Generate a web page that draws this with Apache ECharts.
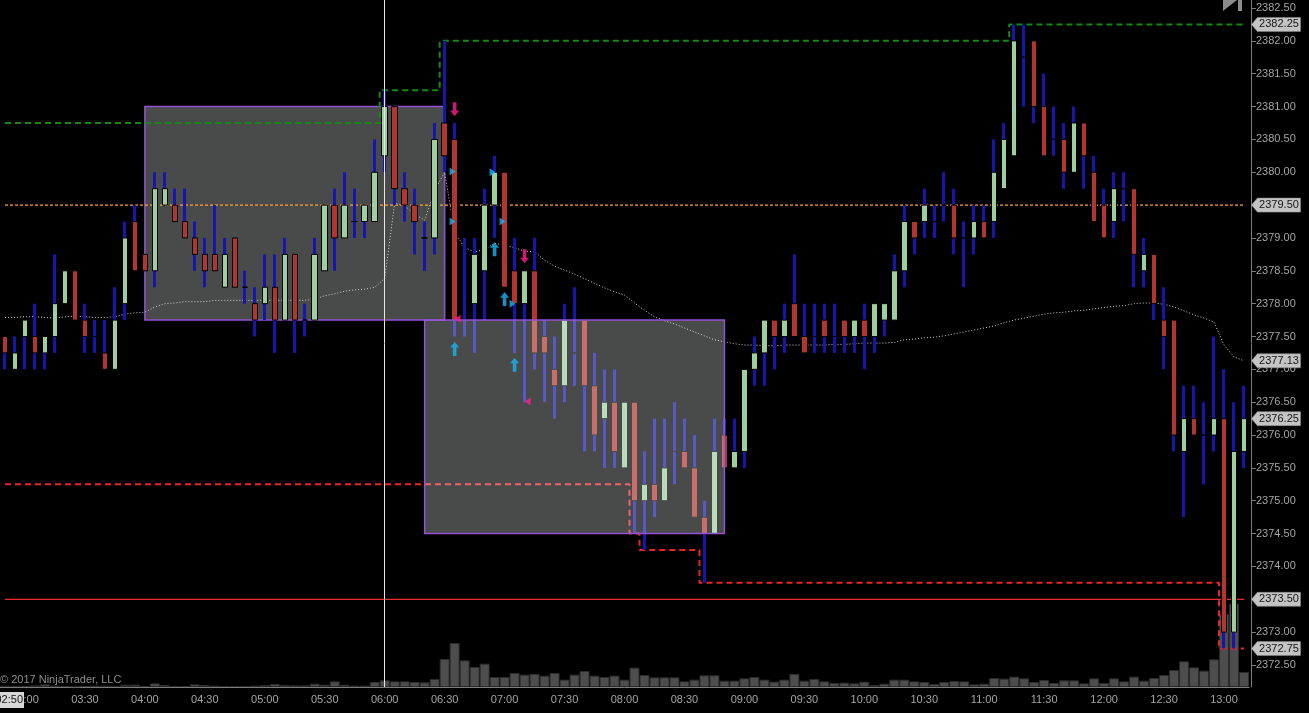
<!DOCTYPE html>
<html>
<head>
<meta charset="utf-8">
<title>ES 5 Min</title>
<script src="https://cdn.jsdelivr.net/npm/echarts@6/dist/echarts.min.js"></script>
<style>
html, body { margin: 0; padding: 0; background: #000; }
#main { width: 1309px; height: 713px; }
</style>
</head>
<body>
<div id="main"></div>
<script>
// 5 minute bars, 02:50 - 13:10
var times = ('02:50 02:55 ' +
  '03:00 03:05 03:10 03:15 03:20 03:25 03:30 03:35 03:40 03:45 03:50 03:55 ' +
  '04:00 04:05 04:10 04:15 04:20 04:25 04:30 04:35 04:40 04:45 04:50 04:55 ' +
  '05:00 05:05 05:10 05:15 05:20 05:25 05:30 05:35 05:40 05:45 05:50 05:55 ' +
  '06:00 06:05 06:10 06:15 06:20 06:25 06:30 06:35 06:40 06:45 06:50 06:55 ' +
  '07:00 07:05 07:10 07:15 07:20 07:25 07:30 07:35 07:40 07:45 07:50 07:55 ' +
  '08:00 08:05 08:10 08:15 08:20 08:25 08:30 08:35 08:40 08:45 08:50 08:55 ' +
  '09:00 09:05 09:10 09:15 09:20 09:25 09:30 09:35 09:40 09:45 09:50 09:55 ' +
  '10:00 10:05 10:10 10:15 10:20 10:25 10:30 10:35 10:40 10:45 10:50 10:55 ' +
  '11:00 11:05 11:10 11:15 11:20 11:25 11:30 11:35 11:40 11:45 11:50 11:55 ' +
  '12:00 12:05 12:10 12:15 12:20 12:25 12:30 12:35 12:40 12:45 12:50 12:55 ' +
  '13:00 13:05 13:10').split(' ');

var opens = [
  2377.50,2377.00,2377.50,2377.50,2377.25,2377.50,2378.00,2378.50,2377.75,2377.50,
  2377.25,2377.00,2378.00,2379.25,2378.75,2378.50,2379.50,2379.50,2379.25,2379.00,
  2378.75,2378.75,2378.25,2379.00,2378.25,2378.00,2378.00,2378.25,2377.75,2378.75,
  2377.75,2377.75,2378.50,2379.50,2379.00,2379.25,2379.25,2379.25,2380.25,2381.00,
  2379.75,2379.50,2379.00,2379.00,2380.75,2380.50,2377.75,2378.00,2378.50,2379.50,
  2380.00,2378.50,2378.00,2378.50,2377.50,2377.00,2376.75,2377.25,2377.75,2376.75,
  2376.25,2376.50,2375.50,2376.50,2375.00,2375.25,2375.00,2375.75,2375.75,2375.50,
  2374.75,2374.50,2376.00,2375.50,2375.75,2377.00,2377.25,2377.75,2377.50,2378.00,
  2377.50,2377.50,2377.75,2377.50,2377.75,2377.50,2377.75,2377.50,2377.75,2377.75,
  2378.50,2379.25,2379.25,2379.25,2379.50,2379.50,2379.00,2379.00,2379.25,2379.25,
  2379.75,2380.25,2381.75,2382.00,2381.00,2380.50,2380.50,2380.00,2380.75,2380.00,
  2379.50,2379.25,2379.75,2379.75,2378.50,2378.75,2377.75,2377.75,2375.75,2376.25,
  2376.00,2376.00,2376.25,2373.00,2375.75
];
var highs = [
  2377.50,2377.50,2377.75,2378.00,2377.50,2378.75,2378.50,2378.50,2378.00,2377.75,
  2377.75,2378.25,2379.25,2379.50,2378.75,2380.00,2380.00,2379.75,2379.75,2379.25,
  2379.00,2379.50,2379.00,2379.00,2378.50,2378.25,2378.75,2378.75,2379.00,2378.75,
  2378.00,2379.00,2379.50,2379.75,2380.00,2379.75,2379.50,2380.50,2381.25,2381.00,
  2380.00,2379.75,2379.25,2380.75,2382.00,2380.75,2379.00,2379.00,2379.75,2380.25,
  2380.00,2379.00,2378.50,2379.00,2377.75,2377.50,2378.00,2378.25,2377.75,2377.25,
  2377.00,2377.00,2376.50,2376.50,2375.75,2376.25,2376.25,2376.50,2376.25,2376.00,
  2375.00,2376.25,2376.25,2376.25,2377.00,2377.50,2377.75,2377.75,2378.00,2378.75,
  2378.00,2378.00,2378.00,2378.00,2377.75,2377.75,2378.00,2378.00,2378.00,2378.75,
  2379.50,2379.25,2379.75,2379.50,2380.00,2379.75,2379.25,2379.50,2379.50,2380.50,
  2380.75,2382.25,2382.25,2382.00,2381.50,2381.00,2380.75,2381.00,2380.75,2380.25,
  2379.75,2380.00,2380.00,2379.75,2379.00,2378.75,2378.25,2377.75,2376.75,2376.75,
  2376.50,2377.50,2377.00,2376.50,2376.75
];
var lows = [
  2377.00,2377.00,2377.00,2377.00,2377.00,2377.25,2378.00,2377.75,2377.25,2377.25,
  2377.00,2377.00,2377.75,2378.50,2378.50,2378.25,2379.50,2379.25,2379.00,2378.50,
  2378.25,2378.50,2378.25,2378.25,2378.00,2377.50,2377.75,2377.25,2377.75,2377.25,
  2377.50,2377.75,2378.50,2378.50,2379.00,2379.00,2379.00,2379.25,2380.00,2379.50,
  2379.25,2378.75,2378.50,2378.75,2380.00,2377.50,2377.50,2377.25,2377.75,2379.00,
  2378.25,2377.25,2376.50,2377.00,2376.50,2376.25,2376.50,2376.75,2375.75,2375.75,
  2375.50,2375.50,2375.50,2374.50,2374.25,2374.75,2375.00,2375.25,2375.50,2374.75,
  2373.75,2374.50,2375.50,2375.50,2375.50,2376.75,2376.75,2377.00,2377.25,2377.50,
  2377.25,2377.25,2377.25,2377.25,2377.25,2377.25,2377.00,2377.25,2377.50,2377.75,
  2378.25,2378.75,2379.00,2379.00,2379.25,2378.75,2378.25,2378.75,2379.00,2379.00,
  2379.75,2380.25,2381.00,2380.75,2380.25,2380.25,2379.75,2380.00,2379.75,2379.25,
  2379.00,2379.00,2379.25,2378.25,2378.25,2377.75,2377.00,2375.75,2374.75,2376.00,
  2375.25,2375.75,2372.75,2372.75,2375.50
];
var closes = [
  2377.25,2377.25,2377.75,2377.25,2377.50,2378.00,2378.50,2377.75,2377.50,2377.50,
  2377.00,2377.75,2379.00,2378.50,2378.50,2379.75,2379.75,2379.25,2379.00,2378.75,
  2378.50,2378.50,2378.75,2378.25,2378.25,2377.75,2378.25,2377.75,2378.75,2377.75,
  2377.75,2378.75,2379.50,2379.00,2379.50,2379.25,2379.50,2380.00,2381.00,2379.75,
  2379.50,2379.25,2379.00,2380.50,2380.25,2377.75,2377.75,2378.75,2379.50,2380.00,
  2378.25,2378.00,2378.50,2377.25,2377.25,2376.75,2377.75,2377.25,2376.75,2376.00,
  2376.50,2375.75,2376.50,2375.00,2375.25,2375.00,2375.50,2375.75,2375.50,2374.75,
  2374.50,2375.75,2375.50,2375.75,2377.00,2377.25,2377.75,2377.50,2377.75,2377.50,
  2377.25,2377.50,2377.50,2377.50,2377.50,2377.75,2377.50,2378.00,2378.00,2378.50,
  2379.25,2379.00,2379.50,2379.25,2379.50,2379.00,2379.00,2379.25,2379.00,2380.00,
  2380.50,2382.00,2381.75,2381.00,2380.25,2380.50,2380.00,2380.75,2380.25,2379.25,
  2379.00,2379.75,2379.75,2378.75,2378.75,2378.00,2377.50,2376.00,2376.25,2376.00,
  2376.00,2376.25,2373.00,2375.75,2376.25
];
var volumes = [
  40,30,30,50,80,40,30,20,30,40,
  40,30,70,70,30,110,60,30,30,80,
  60,40,30,30,30,40,60,90,60,50,
  50,100,70,170,70,40,40,150,200,170,
  170,150,140,240,840,1320,800,600,700,300,
  300,420,370,390,340,420,220,370,480,340,
  300,340,220,580,360,290,290,290,170,220,
  350,350,190,190,260,300,220,160,220,390,
  190,240,170,120,130,110,160,60,100,220,
  220,170,150,90,150,180,170,80,100,270,
  250,310,260,150,210,120,200,200,110,260,
  120,260,170,310,190,270,360,510,770,590,
  490,830,2190,2500,450
];
// moving average
var movingAvg = [
  2377.79,2377.79,2377.80,2377.80,2377.79,2377.78,2377.80,2377.81,2377.80,2377.79,
  2377.79,2377.80,2377.84,2377.86,2377.87,2377.95,2378.00,2378.01,2378.03,2378.03,
  2378.03,2378.05,2378.05,2378.05,2378.05,2378.05,2378.05,2378.05,2378.05,2378.05,
  2378.05,2378.07,2378.12,2378.15,2378.19,2378.21,2378.22,2378.25,2378.38,2379.53,
  2379.49,2379.36,2379.27,2379.73,2380.00,2379.09,2378.85,2378.79,2378.82,2378.92,
  2378.89,2378.85,2378.80,2378.79,2378.66,2378.57,2378.51,2378.45,2378.38,2378.31,
  2378.24,2378.18,2378.13,2378.01,2377.90,2377.80,2377.74,2377.69,2377.63,2377.57,
  2377.51,2377.45,2377.42,2377.39,2377.37,2377.37,2377.36,2377.36,2377.37,2377.37,
  2377.37,2377.37,2377.37,2377.38,2377.38,2377.39,2377.40,2377.40,2377.40,2377.41,
  2377.45,2377.46,2377.48,2377.49,2377.51,2377.54,2377.57,2377.60,2377.63,2377.66,
  2377.71,2377.75,2377.78,2377.81,2377.84,2377.86,2377.87,2377.89,2377.90,2377.92,
  2377.94,2377.96,2377.97,2378.00,2378.01,2378.01,2377.99,2377.95,2377.89,2377.83,
  2377.78,2377.72,2377.37,2377.19,2377.13
];

var priorHigh = 2380.75;
var priorLow = 2375.25;
var pivotLevel = 2379.50;
var supportLevel = 2373.50;
var priceTicks = [2372.5,2373,2373.5,2374,2374.5,2375,2375.5,2376,2376.5,2377,
  2377.5,2378,2378.5,2379,2379.5,2380,2380.5,2381,2381.5,2382,2382.5];
var flagLevels = [2382.25, 2379.50, 2377.13, 2376.25, 2373.50, 2372.75];

// range boxes [from bar, to bar, top, bottom]
var rangeBox1 = ['04:00', '06:30', 2381.00, 2377.75];
var rangeBox2 = ['06:20', '08:50', 2377.75, 2374.50];

// signal markers [bar index, price]
var buyArrows = [[45, 2377.31], [49, 2378.83], [50, 2378.07], [51, 2377.07]];
var sellArrows = [[45, 2380.96], [52, 2378.72]];
var buyTriangles = [[45, 2380.01], [45, 2379.25], [49, 2380.00], [50, 2379.25], [51, 2378.00]];
var sellTriangles = [[45, 2377.77], [52, 2376.51]];

var wickData = [], bodyData = [], hiLine = [], loLine = [], pivotLine = [], supportLine = [];
var hi = priorHigh, lo = priorLow;
for (var i = 0; i < times.length; i++) {
  wickData.push([opens[i], closes[i], lows[i], highs[i]]);
  bodyData.push([opens[i], closes[i], Math.min(opens[i], closes[i]), Math.max(opens[i], closes[i])]);
  hi = Math.max(hi, highs[i]);
  lo = Math.min(lo, lows[i]);
  hiLine.push(hi);
  loLine.push(lo);
  pivotLine.push(pivotLevel);
  supportLine.push(supportLevel);
}
function pts(list) {
  return list.map(function (p) { return [times[p[0]], p[1]]; });
}

var FONT = 'Liberation Sans, Arial, sans-serif';
var labelGrey = '#a4a4a4';
var isHalfHour = function (idx, val) {
  return val.slice(3) === '00' || val.slice(3) === '30';
};
var boxStyle = { color: 'rgba(250,255,255,0.29)', borderColor: '#9452d4', borderWidth: 1.5 };

var myChart = echarts.init(document.getElementById('main'));
var option = {
  backgroundColor: '#000',
  animation: false,
  grid: [
    { left: -1, right: 60, top: 0, bottom: 26 },
    { left: -1, right: 60, top: 587, bottom: 26 }
  ],
  xAxis: [
    { type: 'category', gridIndex: 0, data: times, show: false },
    {
      type: 'category', gridIndex: 1, data: times,
      axisLine: { lineStyle: { color: '#7c7c7c' } },
      axisTick: { interval: isHalfHour, length: 5, lineStyle: { color: '#7c7c7c' } },
      axisLabel: { interval: isHalfHour, color: labelGrey, fontSize: 11, fontFamily: FONT, margin: 7 }
    }
  ],
  yAxis: [
    {
      type: 'value', gridIndex: 0, position: 'right', offset: 2,
      min: 2372.165, max: 2382.622,
      splitLine: { show: false },
      axisLine: { show: true, lineStyle: { color: '#7c7c7c' } },
      axisTick: { show: true, length: 5, customValues: priceTicks, lineStyle: { color: '#7c7c7c' } },
      axisLabel: {
        customValues: priceTicks, color: labelGrey, fontSize: 11, fontFamily: FONT, margin: 5,
        formatter: function (v) { return v.toFixed(2); }
      }
    },
    { type: 'value', gridIndex: 1, min: 0, max: 3000, show: false, splitLine: { show: false } }
  ],
  series: [
    {
      name: 'Volume', type: 'bar', xAxisIndex: 1, yAxisIndex: 1, data: volumes,
      barCategoryGap: '0%', z: 1,
      itemStyle: { color: '#4d4d4d', borderColor: '#2c2c2c', borderWidth: 1 }
    },
    {
      name: 'Range1', type: 'line', data: [], z: 1,
      markArea: {
        silent: true, z: 1, itemStyle: boxStyle,
        data: [[{ coord: [rangeBox1[0], rangeBox1[2]] }, { coord: [rangeBox1[1], rangeBox1[3]] }]]
      }
    },
    {
      name: 'HighLine', type: 'line', data: hiLine, step: 'middle', symbol: 'none', z: 2,
      lineStyle: { color: '#138a13', width: 2, type: [6, 4] }
    },
    {
      name: 'LowLine', type: 'line', data: loLine, step: 'middle', symbol: 'none', z: 2,
      lineStyle: { color: '#e82626', width: 2, type: [6, 4] }
    },
    {
      name: 'MA', type: 'line', data: movingAvg, symbol: 'none', z: 2,
      lineStyle: { color: '#d0d0d0', width: 1, type: [1, 2] }
    },
    {
      name: 'Pivot', type: 'line', data: pivotLine, symbol: 'none', z: 2,
      lineStyle: { color: '#ffa436', width: 1.4, type: [3, 2] }
    },
    {
      name: 'Support', type: 'line', data: supportLine, symbol: 'none', z: 2,
      lineStyle: { color: '#f02a2a', width: 1.3, type: 'solid' }
    },
    {
      name: 'Wicks', type: 'candlestick', data: wickData, barWidth: 1, z: 3,
      itemStyle: { color: '#1616ac', color0: '#1616ac', borderColor: '#1616ac', borderColor0: '#1616ac', borderWidth: 3 }
    },
    {
      name: 'Bodies', type: 'candlestick', data: bodyData, barWidth: 6, z: 4,
      itemStyle: { color: '#9ecd9e', color0: '#b3352f', borderColor: '#000', borderColor0: '#000', borderWidth: 1 }
    },
    {
      name: 'Range2', type: 'line', data: [], z: 5,
      markArea: {
        silent: true, z: 5, itemStyle: boxStyle,
        data: [[{ coord: [rangeBox2[0], rangeBox2[2]] }, { coord: [rangeBox2[1], rangeBox2[3]] }]]
      }
    },
    {
      name: 'BuyArrow', type: 'scatter', data: pts(buyArrows), z: 6,
      symbol: 'path://M5,0 L10,6 L7,6 L7,15 L3,15 L3,6 L0,6 Z', symbolSize: [9, 14],
      itemStyle: { color: '#19b4f2' }
    },
    {
      name: 'SellArrow', type: 'scatter', data: pts(sellArrows), z: 6,
      symbol: 'path://M3,0 L7,0 L7,9 L10,9 L5,15 L0,9 L3,9 Z', symbolSize: [9, 14],
      itemStyle: { color: '#ff1f8e' }
    },
    {
      name: 'BuyTri', type: 'scatter', data: pts(buyTriangles), z: 6,
      symbol: 'path://M0,0 L8,5 L0,10 Z', symbolSize: [6, 8], symbolOffset: [-2, 0],
      itemStyle: { color: '#19b4f2' }
    },
    {
      name: 'SellTri', type: 'scatter', data: pts(sellTriangles), z: 6,
      symbol: 'path://M8,0 L0,5 L8,10 Z', symbolSize: [6, 8], symbolOffset: [3, 0],
      itemStyle: { color: '#ff1f8e' }
    },
    {
      name: 'Overlay', type: 'line', data: [], z: 8,
      markLine: {
        silent: true, z: 8, symbol: ['none', 'none'], label: { show: false },
        lineStyle: { color: '#e6e6e6', width: 1, type: 'solid' },
        data: [{ xAxis: '06:00' }]
      },
      markPoint: {
        silent: true, z: 9,
        symbol: 'path://M0,6 L6,0 L50,0 L50,12 L6,12 Z',
        symbolSize: [49, 14],
        symbolOffset: [32, 0],
        itemStyle: { color: '#c4c4c4', borderColor: '#8a8a8a', borderWidth: 0.5 },
        label: {
          show: true, position: 'inside', offset: [3, 0], color: '#151515', fontSize: 11, fontFamily: FONT,
          formatter: function (p) { return p.value.toFixed(2); }
        },
        data: flagLevels.map(function (v) { return { coord: [times[times.length - 1], v], value: v }; })
      }
    }
  ],
  graphic: [
    { type: 'text', left: 0, top: 674, z: 10, style: { text: '\u00a9 2017 NinjaTrader, LLC', fill: '#8e8e8e', font: '11px ' + FONT } },
    { type: 'rect', shape: { x: 0, y: 692, width: 24, height: 16 }, z: 10, style: { fill: '#d6d6d6' } },
    { type: 'text', x: 23, y: 694, z: 11, style: { text: '02:50', fill: '#141414', font: '11px ' + FONT, align: 'right' } },
    { type: 'polygon', shape: { points: [[1223, -12], [1223, 11], [1237, 0]] }, z: 10, style: { fill: '#8c8c8c' } },
    { type: 'rect', shape: { x: 1238, y: -4, width: 4, height: 15 }, z: 10, style: { fill: '#8c8c8c' } }
  ]
};
myChart.setOption(option);
window.onresize = myChart.resize;
</script>
</body>
</html>
